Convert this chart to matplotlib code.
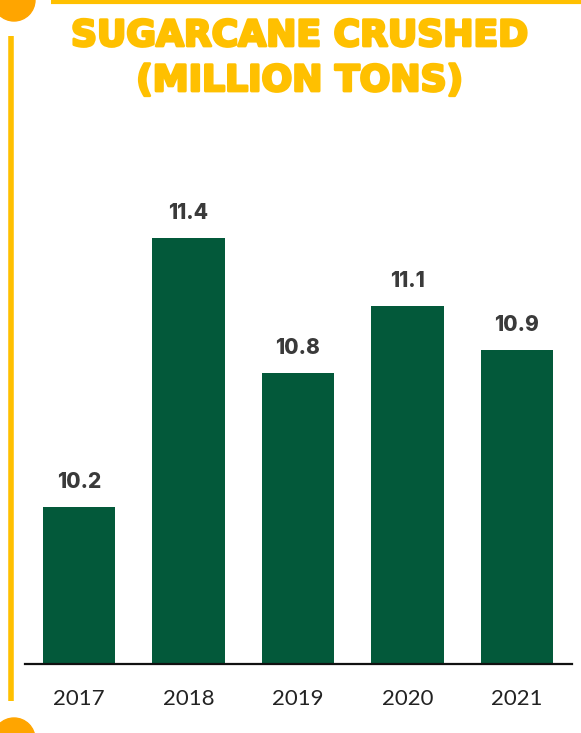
import matplotlib
matplotlib.use('Agg')
import matplotlib.pyplot as plt
import matplotlib.patheffects as pe
from matplotlib.patches import Circle
from matplotlib.lines import Line2D

years = ['2017', '2018', '2019', '2020', '2021']
crushed = [10.2, 11.4, 10.8, 11.1, 10.9]
labels = ['10.2', '11.4', '10.8', '11.1', '10.9']

W, H = 581, 733
fig = plt.figure(figsize=(W / 100, H / 100), dpi=100)

# decoration layer in pixel coordinates
deco = fig.add_axes([0, 0, 1, 1])
deco.set_xlim(0, W)
deco.set_ylim(H, 0)
deco.axis('off')
deco.add_patch(Circle((14, 0), 21, color='#FFA500', zorder=2))
deco.add_patch(Circle((14, 739), 21, color='#FFA500', zorder=2))
deco.add_line(Line2D([11, 11], [36, 701], color='#FFC000', lw=4, solid_capstyle='butt'))
deco.add_line(Line2D([51, W], [1.5, 1.5], color='#FFC000', lw=3, solid_capstyle='butt'))

heavy = [pe.withStroke(linewidth=2, foreground='#FFC000')]
deco.text(300, 36, 'SUGARCANE CRUSHED', ha='center', va='center', color='#FFC000',
          fontsize=26, fontweight='bold', family='DejaVu Sans', path_effects=heavy)
deco.text(300, 81, '(MILLION TONS)', ha='center', va='center', color='#FFC000',
          fontsize=26, fontweight='bold', family='DejaVu Sans', path_effects=heavy)

ax_bottom = (H - 664) / H
ax_top = (H - 104) / H
ax = fig.add_axes([24.5 / W, ax_bottom, 547 / W, ax_top - ax_bottom])
x = range(len(years))
ax.bar(x, crushed, width=0.66, color='#03593A', zorder=2)
ax.set_xlim(-0.5, 4.5)
ax.set_ylim(9.5, 12.0)
for xi, v, lab in zip(x, crushed, labels):
    ax.annotate(lab, (xi, v), xytext=(0, 25), textcoords='offset pixels',
                ha='center', va='center', fontsize=15, fontweight='heavy',
                color='#3a3a3a', family='Inter')
ax.set_xticks(list(x))
ax.set_xticklabels(years, fontsize=16, color='#222222', family='Lato')
ax.tick_params(axis='x', length=0, pad=18)
ax.set_yticks([])
for s in ['top', 'left', 'right']:
    ax.spines[s].set_visible(False)
ax.spines['bottom'].set_linewidth(1.6)
ax.spines['bottom'].set_color('#111111')
ax.patch.set_alpha(0)

fig.savefig('out.png', dpi=100)
